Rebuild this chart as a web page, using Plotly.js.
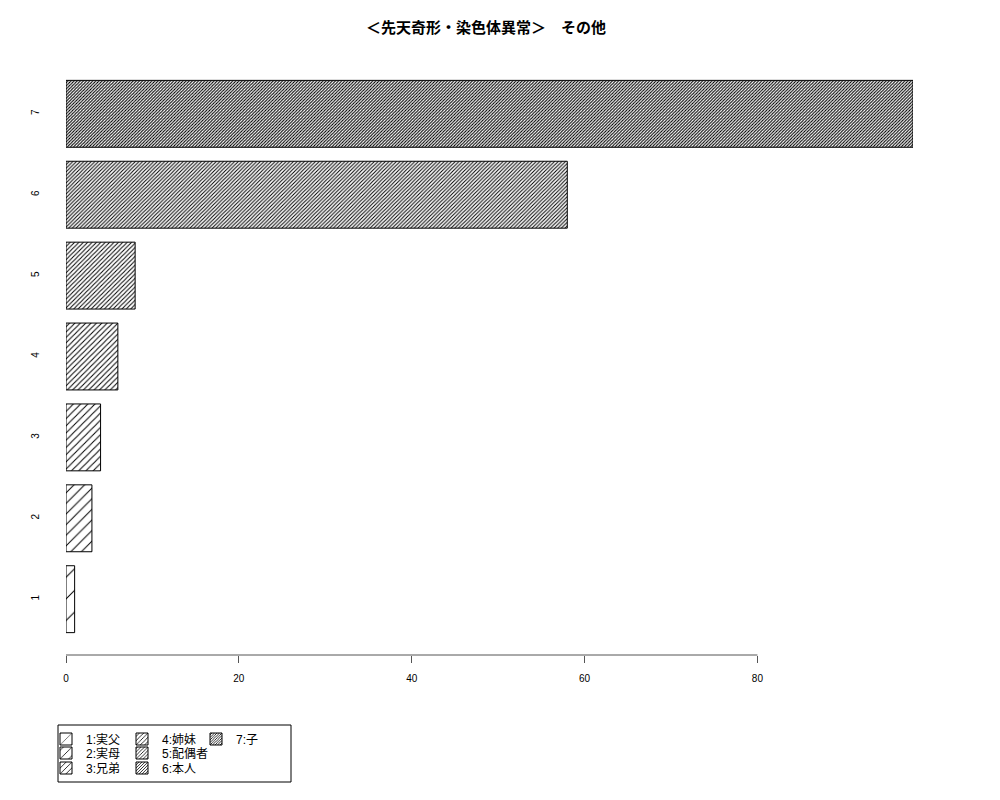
<!DOCTYPE html>
<html>
<head>
<meta charset="utf-8">
<script src="https://cdn.plot.ly/plotly-3.0.1.min.js"></script>
<style>html,body{margin:0;padding:0;background:#fff;}#chart{width:1000px;height:800px;}</style>
</head>
<body>
<div id="chart"></div>
<script>
// ---- data ----
const categories = ['1', '2', '3', '4', '5', '6', '7'];
const values = [1, 3, 4, 6, 8, 58, 98];
const legendLabels = ['1:実父', '2:実母', '3:兄弟', '4:姉妹', '5:配偶者', '6:本人', '7:子'];
const xTickVals = [0, 20, 40, 60, 80];
const chartTitle = '＜先天奇形・染色体異常＞　その他';

// ---- styling ----
const hatchSizes = [15.3, 7.5, 5.1, 3.8, 3.1, 2.6, 2.2];
const FONT = 'Liberation Sans, Arial, "Noto Sans CJK JP", sans-serif';
const plotL = 66, plotR = 913, plotT = 58, plotB = 655;
const pw = plotR - plotL, ph = plotB - plotT;
const px2x = p => (p - plotL) / pw;
const py2y = p => (plotB - p) / ph;

const legendCols = [88, 164, 238];
const legendRows = [739, 753, 768];
const legendPos = [[0,0],[0,1],[0,2],[1,0],[1,1],[1,2],[2,0]];

const traces = categories.map((c, i) => ({
  type: 'bar',
  orientation: 'h',
  y: [c],
  x: [values[i]],
  name: legendLabels[i],
  width: 0.827,
  legend: i === 0 ? 'legend' : 'legend' + (i + 1),
  marker: {
    color: 'white',
    line: {color: 'black', width: 1},
    pattern: {shape: '/', size: hatchSizes[i], solidity: Math.min(0.5, 1.0 / hatchSizes[i]), fgcolor: 'black', bgcolor: 'white', fillmode: 'replace'}
  },
  hoverinfo: 'x+y'
}));

const layout = {
  width: 1000, height: 800,
  paper_bgcolor: 'white', plot_bgcolor: 'white',
  font: {family: FONT, size: 10, color: 'black'},
  margin: {l: plotL, r: 1000 - plotR, t: plotT, b: 800 - plotB, pad: 0},
  barmode: 'overlay',
  title: {
    text: chartTitle,
    font: {family: '"Noto Sans CJK JP", sans-serif', size: 15, color: 'black', weight: 'bold'},
    x: 486 / 1000, xref: 'container', xanchor: 'center',
    y: 1 - 28 / 800, yref: 'container', yanchor: 'middle'
  },
  xaxis: {
    range: [0, 98], autorange: false,
    tickvals: xTickVals, ticktext: xTickVals.map(String),
    ticks: 'outside', ticklen: 7, tickwidth: 1, tickcolor: '#555',
    ticklabelstandoff: 7,
    showline: false, showgrid: false, zeroline: false,
    tickfont: {family: FONT, size: 10, color: 'black'}
  },
  yaxis: {
    type: 'category', categoryorder: 'array', categoryarray: categories,
    range: [-0.69, 6.69], autorange: false,
    tickangle: -90, ticks: 'outside', ticklen: 22, tickcolor: 'rgba(0,0,0,0)',
    showline: false, showgrid: false, zeroline: false,
    tickfont: {family: FONT, size: 10, color: 'black'}
  },
  shapes: [
    {type: 'line', xref: 'x', yref: 'paper', x0: 0, x1: 80, y0: 0, y1: 0, line: {color: '#555', width: 1}},
    {type: 'rect', xref: 'paper', yref: 'paper', x0: px2x(58), x1: px2x(291), y0: py2y(782), y1: py2y(725), line: {color: 'black', width: 1}, fillcolor: 'rgba(0,0,0,0)'}
  ],
  showlegend: true
};

legendPos.forEach((pos, i) => {
  const key = i === 0 ? 'legend' : 'legend' + (i + 1);
  layout[key] = {
    x: px2x(legendCols[pos[0]] - 42), xref: 'paper', xanchor: 'left',
    y: py2y(legendRows[pos[1]]), yref: 'paper', yanchor: 'middle',
    bgcolor: 'rgba(0,0,0,0)', borderwidth: 0,
    font: {family: FONT, size: 12, color: 'black'},
    itemclick: false, itemdoubleclick: false
  };
});

Plotly.newPlot('chart', traces, layout, {displayModeBar: false, staticPlot: true});
</script>
</body>
</html>
